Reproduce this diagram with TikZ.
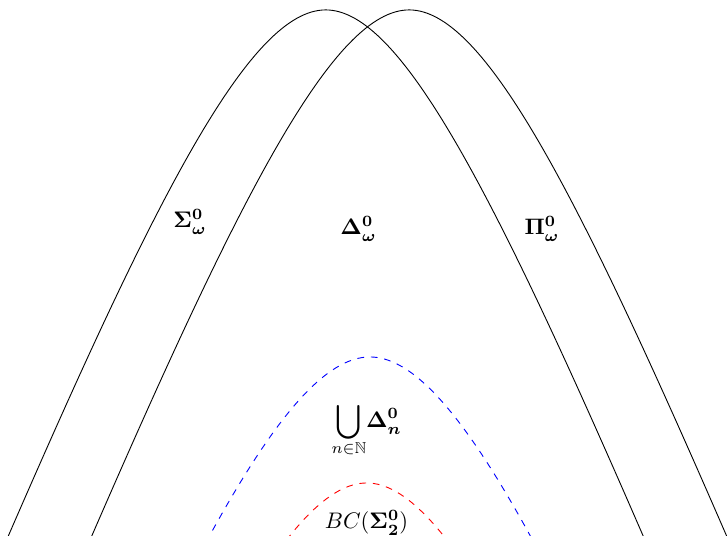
\documentclass[tikz,border=0pt]{standalone}
\usepackage{amsmath,amssymb}
\usepackage{tikz}

\begin{document}
\begin{tikzpicture}[
  cls/.style={font=\normalsize, inner sep=2pt},
  arch/.pic={
    \draw (-4.96,-8.22) .. controls (-2.62,-2.83) and (-1.17,0) .. (0,0)
          .. controls (1.17,0) and (2.62,-2.83) .. (4.96,-8.22);
  },
]
\useasboundingbox (0,0) rectangle (11.36,8.375);
\def\mx{5.742}
\def\sh{0.652}
\begin{scope}
\clip (0,0) rectangle (11.36,8.375);
% the two big classes
\pic at ({\mx-\sh},8.22) {arch};
\pic at ({\mx+\sh},8.22) {arch};
% smaller ones inside
\pic[blue, dashed, xscale=1.03] at (5.78,2.797) {arch};
\pic[red, dashed] at (5.73,0.828) {arch};
\end{scope}
\node[cls] (sig) at (2.969,4.906) {$\boldsymbol{\Sigma^0_\omega}$};
\node[cls] (del) at (5.602,4.797) {$\boldsymbol{\Delta^0_\omega}$};
\node[cls] (pi)  at (8.469,4.797) {$\boldsymbol{\Pi^0_\omega}$};
\node[cls] (uni) at (5.73,1.64)
  {$\displaystyle\mathop{\vcenter{\hbox{\scalebox{1.4}[1.5]{$\bigcup$}}}}\limits_{n\in\mathbb{N}}\!\boldsymbol{\Delta^0_n}$};
\node[cls] (bc)  at (5.727,0.203) {$BC(\boldsymbol{\Sigma^0_2})$};
\end{tikzpicture}
\end{document}
